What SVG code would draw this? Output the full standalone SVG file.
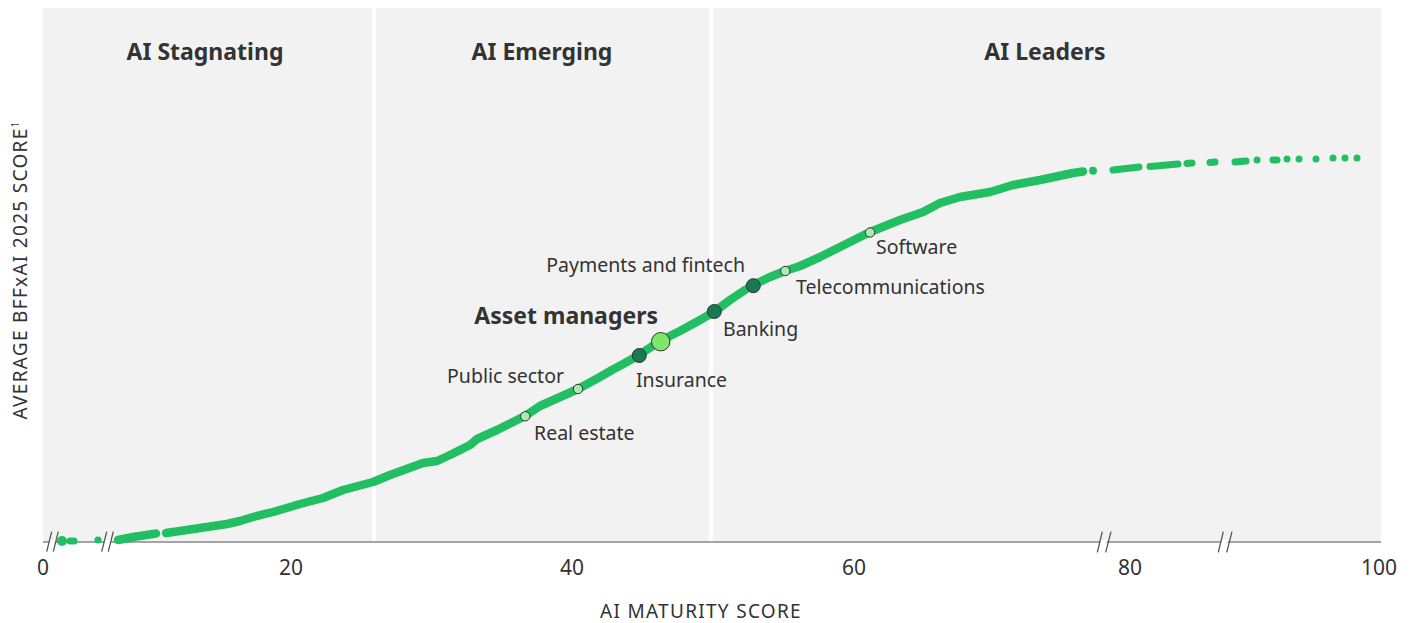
<svg xmlns="http://www.w3.org/2000/svg" width="1415" height="623" viewBox="0 0 1415 623">
<style>
text{font-family:"Noto Sans","Open Sans","Liberation Sans",sans-serif;fill:#333}
.zone{font-size:23px;font-weight:bold;text-anchor:middle}
.lbl{font-size:19.5px}
.tick{font-size:21px;text-anchor:middle}
.ax{font-size:19px;letter-spacing:1.3px;text-anchor:middle}
.curve{fill:none;stroke:#21bf61;stroke-width:8.5;stroke-linecap:round;stroke-linejoin:round}
.dseg{fill:none;stroke:#21bf61;stroke-width:7;stroke-linecap:round}
.dot{fill:#21bf61}
.light{fill:#a9eab6;stroke:#333;stroke-width:1}
.dark{fill:#187a52;stroke:#333;stroke-width:1}
.bright{fill:#7de868;stroke:#333;stroke-width:1}
.brk{stroke:#555;stroke-width:1.3;fill:none}
</style>
<rect width="1415" height="623" fill="#fff"/>
<g id="background">
<rect x="43" y="8" width="1338" height="534" fill="#f2f2f2"/>
<rect x="372" y="8" width="4" height="534" fill="#fff"/>
<rect x="709" y="8" width="4" height="534" fill="#fff"/>
</g>
<g id="zones">
<text class="zone" x="205" y="60">AI Stagnating</text>
<text class="zone" x="542" y="60">AI Emerging</text>
<text class="zone" x="1045" y="60">AI Leaders</text>
</g>
<g id="axes">
<line x1="43" y1="542" x2="1381" y2="542" stroke="#888" stroke-width="1.6"/>
<polygon points="50,540 56,540 54.5,544 48.5,544" fill="#fff"/>
<polygon points="105,540 111,540 109.5,544 103.5,544" fill="#fff"/>
<polygon points="1101,540 1107.5,540 1106,544 1099.5,544" fill="#fff"/>
<polygon points="1222,540 1228.5,540 1227,544 1220.5,544" fill="#fff"/>
<path class="brk" d="M46.7,551.7L51.7,531.7M53.3,551.7L58.3,531.7M101.7,551.7L106.7,531.7M108.3,551.7L113.3,531.7M1097.3,552.3L1102.3,531.7M1105.7,552.3L1111,531.7M1218.3,552.3L1223.3,531.7M1226.7,552.3L1232,531.7"/>
<text class="tick" x="43" y="575">0</text>
<text class="tick" x="291" y="575">20</text>
<text class="tick" x="572" y="575">40</text>
<text class="tick" x="854" y="575">60</text>
<text class="tick" x="1130" y="575">80</text>
<text class="tick" x="1379" y="575">100</text>
<text class="ax" x="701" y="618">AI MATURITY SCORE</text>
<text class="ax" transform="translate(27,270) rotate(-90)">AVERAGE BFFxAI 2025 SCORE<tspan font-size="10" dy="-8">1</tspan></text>
</g>
<g id="connectors">
<circle class="dot" cx="62" cy="541" r="5"/>
<line class="dseg" x1="70" y1="541" x2="74" y2="541"/>
<circle class="dot" cx="98" cy="540" r="3.6"/>
<polyline class="curve" points="118,540 133,537 153,534 156,533.6"/>
<polyline class="curve" points="166,533 180,531 200,528 227,524 240,521 253,517 273,512 290,507 300,504 323,498 343,490 373,482 390,475 423,463 437,461 450,455 470,445 477,439 497,430 525,416 540,406 578,389 600,377 612,370 625,363 639,355 660,341 680,331 700,320 714,312 730,300 745,290 753,285 770,277 785,271 800,266 820,257 840,247 870,232 900,220 923,212 940,203 960,197 990,192 1013,185 1040,180 1073,173 1083,171.5"/>
<circle class="dot" cx="1093" cy="170.7" r="4"/>
<line class="dseg" x1="1113" y1="170" x2="1139" y2="167"/>
<line class="dseg" x1="1150" y1="166.5" x2="1178" y2="164"/>
<line class="dseg" x1="1187" y1="163.5" x2="1192" y2="163"/>
<line class="dseg" x1="1210" y1="162.5" x2="1215" y2="162"/>
<line class="dseg" x1="1235" y1="162" x2="1246" y2="161"/>
<circle class="dot" cx="1257" cy="160" r="3.5"/>
<line class="dseg" x1="1273" y1="160" x2="1277" y2="160"/>
<circle class="dot" cx="1287" cy="159" r="3.5"/>
<circle class="dot" cx="1299" cy="159" r="3.5"/>
<circle class="dot" cx="1316" cy="159" r="3.5"/>
<circle class="dot" cx="1333" cy="158" r="3.5"/>
<circle class="dot" cx="1345" cy="158" r="3.5"/>
<circle class="dot" cx="1357" cy="158" r="3.5"/>
</g>
<g id="software"><circle class="light" cx="870" cy="232.5" r="4.7"/><text class="lbl" x="876" y="254">Software</text></g>
<g id="telecommunications"><circle class="light" cx="785.3" cy="271" r="4.7"/><text class="lbl" x="796" y="294">Telecommunications</text></g>
<g id="payments"><circle class="dark" cx="753.3" cy="285.7" r="7"/><text class="lbl" x="745" y="272" text-anchor="end">Payments and fintech</text></g>
<g id="banking"><circle class="dark" cx="714.3" cy="311.5" r="7"/><text class="lbl" x="723" y="336">Banking</text></g>
<g id="asset-managers"><circle class="bright" cx="660.7" cy="341.7" r="9.2"/><text class="zone" x="658" y="324" style="text-anchor:end">Asset managers</text></g>
<g id="insurance"><circle class="dark" cx="639.3" cy="355.5" r="7"/><text class="lbl" x="636" y="386.5">Insurance</text></g>
<g id="public-sector"><circle class="light" cx="578" cy="389" r="4.7"/><text class="lbl" x="564" y="383" text-anchor="end">Public sector</text></g>
<g id="real-estate"><circle class="light" cx="525.3" cy="416.3" r="4.7"/><text class="lbl" x="534" y="440">Real estate</text></g>
</svg>
